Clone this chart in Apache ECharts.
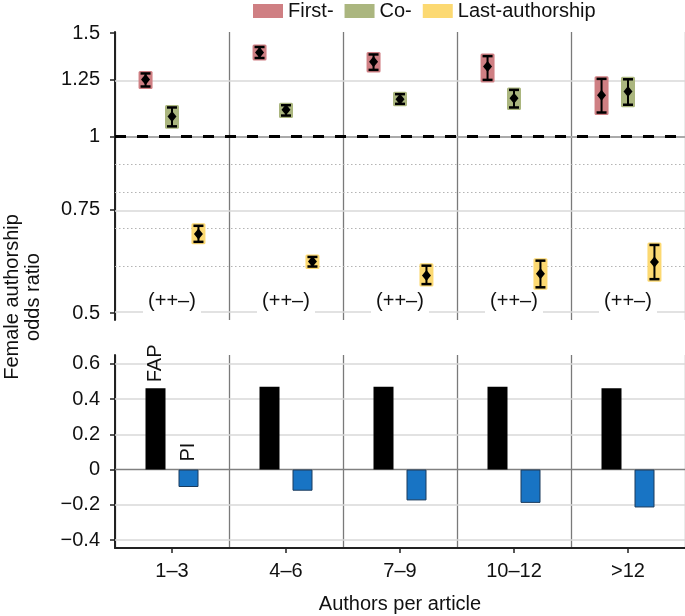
<!DOCTYPE html>
<html>
<head>
<meta charset="utf-8">
<script src="https://cdn.jsdelivr.net/npm/echarts@6/dist/echarts.min.js"></script>
<style>
html,body{margin:0;padding:0;background:#fff;}
#chart{width:685px;height:616px;}
</style>
</head>
<body>
<div id="chart"></div>
<script>
// ---- data ----
const categories = ['1–3', '4–6', '7–9', '10–12', '>12'];
const seriesNames = ['First-', 'Co-', 'Last-authorship'];
const firstMid = [1.25, 1.39, 1.34, 1.315, 1.175];
const firstLo  = [1.216, 1.36, 1.298, 1.248, 1.098];
const firstHi  = [1.28, 1.42, 1.379, 1.37, 1.253];
const coMid = [1.081, 1.11, 1.157, 1.161, 1.192];
const coLo  = [1.04, 1.085, 1.136, 1.12, 1.132];
const coHi  = [1.12, 1.13, 1.18, 1.2, 1.251];
const lastMid = [0.682, 0.612, 0.579, 0.583, 0.611];
const lastLo  = [0.661, 0.600, 0.560, 0.553, 0.571];
const lastHi  = [0.704, 0.623, 0.602, 0.614, 0.653];
const patternLabels = ['(++–)', '(++–)', '(++–)', '(++–)', '(++–)'];
const fapValues = [0.461, 0.47, 0.47, 0.47, 0.461];
const piValues = [-0.099, -0.12, -0.175, -0.189, -0.215];
const topTickValues = [0.5, 0.75, 1, 1.25, 1.5];
const topTickLabels = ['0.5', '0.75', '1', '1.25', '1.5'];
const topSolidGrid = [0.5, 0.75, 1, 1.25, 1.5];
const topDottedGrid = [0.6, 0.7, 0.8, 0.9];
const referenceLine = 1;
const bottomTickValues = [-0.4, -0.2, 0, 0.2, 0.4, 0.6];
const bottomTickLabels = ['−0.4', '−0.2', '0', '0.2', '0.4', '0.6'];

// ---- styles ----
const FONT = '"Liberation Sans", Arial, Helvetica, sans-serif';
const FS = 20;
const colors = ['#cf7f83', '#abb67f', '#fcd972'];
const groupOffsets = [-0.232, 0, 0.232];

const chart = echarts.init(document.getElementById('chart'));

function errRender(k) {
  return function (params, api) {
    const i = api.value(0);
    const band = api.size([1, 0])[0];
    const pLo = api.coord([i, api.value(1)]);
    const pMid = api.coord([i, api.value(2)]);
    const pHi = api.coord([i, api.value(3)]);
    const cx = pMid[0] + groupOffsets[k] * band;
    const yT = pHi[1], yB = pLo[1], yM = pMid[1];
    return {
      type: 'group',
      children: [
        { type: 'rect', shape: { x: cx - 7, y: yT - 2.5, width: 14, height: yB - yT + 5, r: 1.5 }, style: { fill: colors[k] } },
        { type: 'line', shape: { x1: cx, y1: yT, x2: cx, y2: yB }, style: { stroke: '#000', lineWidth: 2 } },
        { type: 'line', shape: { x1: cx - 5, y1: yT, x2: cx + 5, y2: yT }, style: { stroke: '#000', lineWidth: 2.5 } },
        { type: 'line', shape: { x1: cx - 5, y1: yB, x2: cx + 5, y2: yB }, style: { stroke: '#000', lineWidth: 2.5 } },
        { type: 'polygon', shape: { points: [[cx, yM - 5.5], [cx + 4.5, yM], [cx, yM + 5.5], [cx - 4.5, yM]] }, style: { fill: '#000' } }
      ]
    };
  };
}

const groups = [[firstLo, firstMid, firstHi], [coLo, coMid, coHi], [lastLo, lastMid, lastHi]];
const errSeries = groups.map((g, k) => ({
  name: seriesNames[k],
  type: 'custom',
  xAxisIndex: 0, yAxisIndex: 0,
  z: 5,
  itemStyle: { color: colors[k] },
  renderItem: errRender(k),
  encode: { x: 0, y: [1, 2, 3] },
  data: categories.map((c, i) => [i, Math.log(g[0][i]), Math.log(g[1][i]), Math.log(g[2][i])])
}));

const topMarkLines = [];
topSolidGrid.forEach(v => topMarkLines.push({ yAxis: Math.log(v), lineStyle: { color: '#d8d8d8', width: 1.5, type: 'solid' } }));
topDottedGrid.forEach(v => topMarkLines.push({ yAxis: Math.log(v), lineStyle: { color: '#b4b4b4', width: 1.2, type: [1.5, 2.5] } }));
topMarkLines.push({ yAxis: Math.log(referenceLine), lineStyle: { color: '#000', width: 3, type: [11, 11] } });

const bottomMarkLines = bottomTickValues.filter(v => v !== 0).map(v => ({ yAxis: v, lineStyle: { color: '#d8d8d8', width: 1.5, type: 'solid' } }));
bottomMarkLines.push({ yAxis: 0, lineStyle: { color: '#808080', width: 1.4, type: 'solid' } });

function nearestLabel(v, vals, labels, useLog) {
  let best = 0, bd = Infinity;
  vals.forEach((t, i) => { const d = Math.abs((useLog ? Math.log(t) : t) - v); if (d < bd) { bd = d; best = i; } });
  return labels[best];
}

const option = {
  backgroundColor: '#fff',
  animation: false,
  textStyle: { fontFamily: FONT },
  legend: {
    data: seriesNames,
    left: 253, top: 1, padding: 0,
    icon: 'rect',
    itemWidth: 30, itemHeight: 14, itemGap: 11,
    textStyle: { fontSize: FS, color: '#111', fontFamily: FONT }
  },
  grid: [
    { left: 115, top: 32, right: 0, height: 288 },
    { left: 115, top: 355, right: 0, height: 193 }
  ],
  xAxis: [
    {
      type: 'category', gridIndex: 0, data: categories,
      axisLine: { lineStyle: { color: '#222', width: 2 } },
      axisTick: { show: false }, axisLabel: { show: false },
      splitLine: { show: true, lineStyle: { color: '#7a7a7a', width: 1.3 } }
    },
    {
      type: 'category', gridIndex: 1, data: categories,
      axisLine: { onZero: false, lineStyle: { color: '#222', width: 2 } },
      axisTick: { show: true, alignWithLabel: true, length: 5, lineStyle: { color: '#222', width: 1.5 } },
      axisLabel: { fontSize: FS, color: '#111', margin: 13, fontFamily: FONT },
      splitLine: { show: true, lineStyle: { color: '#7a7a7a', width: 1.3 } },
      name: 'Authors per article', nameLocation: 'middle', nameGap: 46,
      nameTextStyle: { fontSize: FS, color: '#111', fontFamily: FONT }
    }
  ],
  yAxis: [
    {
      type: 'value', gridIndex: 0,
      min: Math.log(0.5) - 0.0275, max: Math.log(1.5) + 0.004,
      axisLine: { show: true, lineStyle: { color: '#222', width: 2 } },
      axisTick: { show: true, length: 5, customValues: topTickValues.map(Math.log), lineStyle: { color: '#222', width: 1.5 } },
      axisLabel: {
        customValues: topTickValues.map(Math.log), fontSize: FS, color: '#111', margin: 15, fontFamily: FONT,
        formatter: v => nearestLabel(v, topTickValues, topTickLabels, true)
      },
      splitLine: { show: false }
    },
    {
      type: 'value', gridIndex: 1,
      min: -0.445, max: 0.65,
      axisLine: { show: true, lineStyle: { color: '#222', width: 2 } },
      axisTick: { show: true, length: 5, customValues: bottomTickValues, lineStyle: { color: '#222', width: 1.5 } },
      axisLabel: {
        customValues: bottomTickValues, fontSize: FS, color: '#111', margin: 15, fontFamily: FONT,
        formatter: v => nearestLabel(v, bottomTickValues, bottomTickLabels, false)
      },
      splitLine: { show: false }
    }
  ],
  graphic: [
    {
      type: 'text', x: 23, y: 297, rotation: Math.PI / 2,
      style: {
        text: 'Female authorship\nodds ratio', fontSize: FS, fontFamily: FONT, fill: '#111',
        align: 'center', verticalAlign: 'middle', lineHeight: 21
      }
    }
  ],
  series: [
    {
      name: 'topGrid', type: 'line', xAxisIndex: 0, yAxisIndex: 0, data: [], z: 1, silent: true,
      markLine: {
        silent: true, z: 1, symbol: ['none', 'none'], label: { show: false }, animation: false,
        data: topMarkLines
      }
    },
    {
      name: 'patternLabels', type: 'custom', xAxisIndex: 0, yAxisIndex: 0, z: 4, silent: true,
      renderItem: function (params, api) {
        const p = api.coord([api.value(0), Math.log(0.5)]);
        return {
          type: 'group',
          children: [
            { type: 'rect', shape: { x: p[0] - 29, y: p[1] - 25, width: 58, height: 28 }, style: { fill: '#fff' } },
            { type: 'text', x: p[0], y: p[1] - 12, style: { text: patternLabels[params.dataIndex], fontSize: FS, fontFamily: FONT, fill: '#111', align: 'center', verticalAlign: 'middle' } }
          ]
        };
      },
      data: categories.map((c, i) => [i])
    },
    ...errSeries,
    {
      name: 'bottomGrid', type: 'line', xAxisIndex: 1, yAxisIndex: 1, data: [], z: 1, silent: true,
      markLine: { silent: true, z: 1, symbol: ['none', 'none'], label: { show: false }, animation: false, data: bottomMarkLines }
    },
    {
      name: 'FAP', type: 'bar', xAxisIndex: 1, yAxisIndex: 1, z: 3,
      barWidth: 20, barGap: '65%',
      itemStyle: { color: '#000' },
      data: fapValues.map((v, i) => i === 0 ? {
        value: v,
        label: { show: true, formatter: 'FAP', position: 'top', rotate: 90, align: 'left', verticalAlign: 'middle', distance: 6, fontSize: FS, color: '#111', fontFamily: FONT }
      } : v)
    },
    {
      name: 'PI', type: 'bar', xAxisIndex: 1, yAxisIndex: 1, z: 3,
      barWidth: 20,
      itemStyle: { color: '#1874c4', borderColor: '#1b3b5c', borderWidth: 1 },
      data: piValues.map((v, i) => i === 0 ? {
        value: v,
        label: { show: true, formatter: 'PI', position: 'top', rotate: 90, align: 'left', verticalAlign: 'middle', distance: 8, fontSize: FS, color: '#111', fontFamily: FONT }
      } : v)
    }
  ]
};
chart.setOption(option);
</script>
</body>
</html>
